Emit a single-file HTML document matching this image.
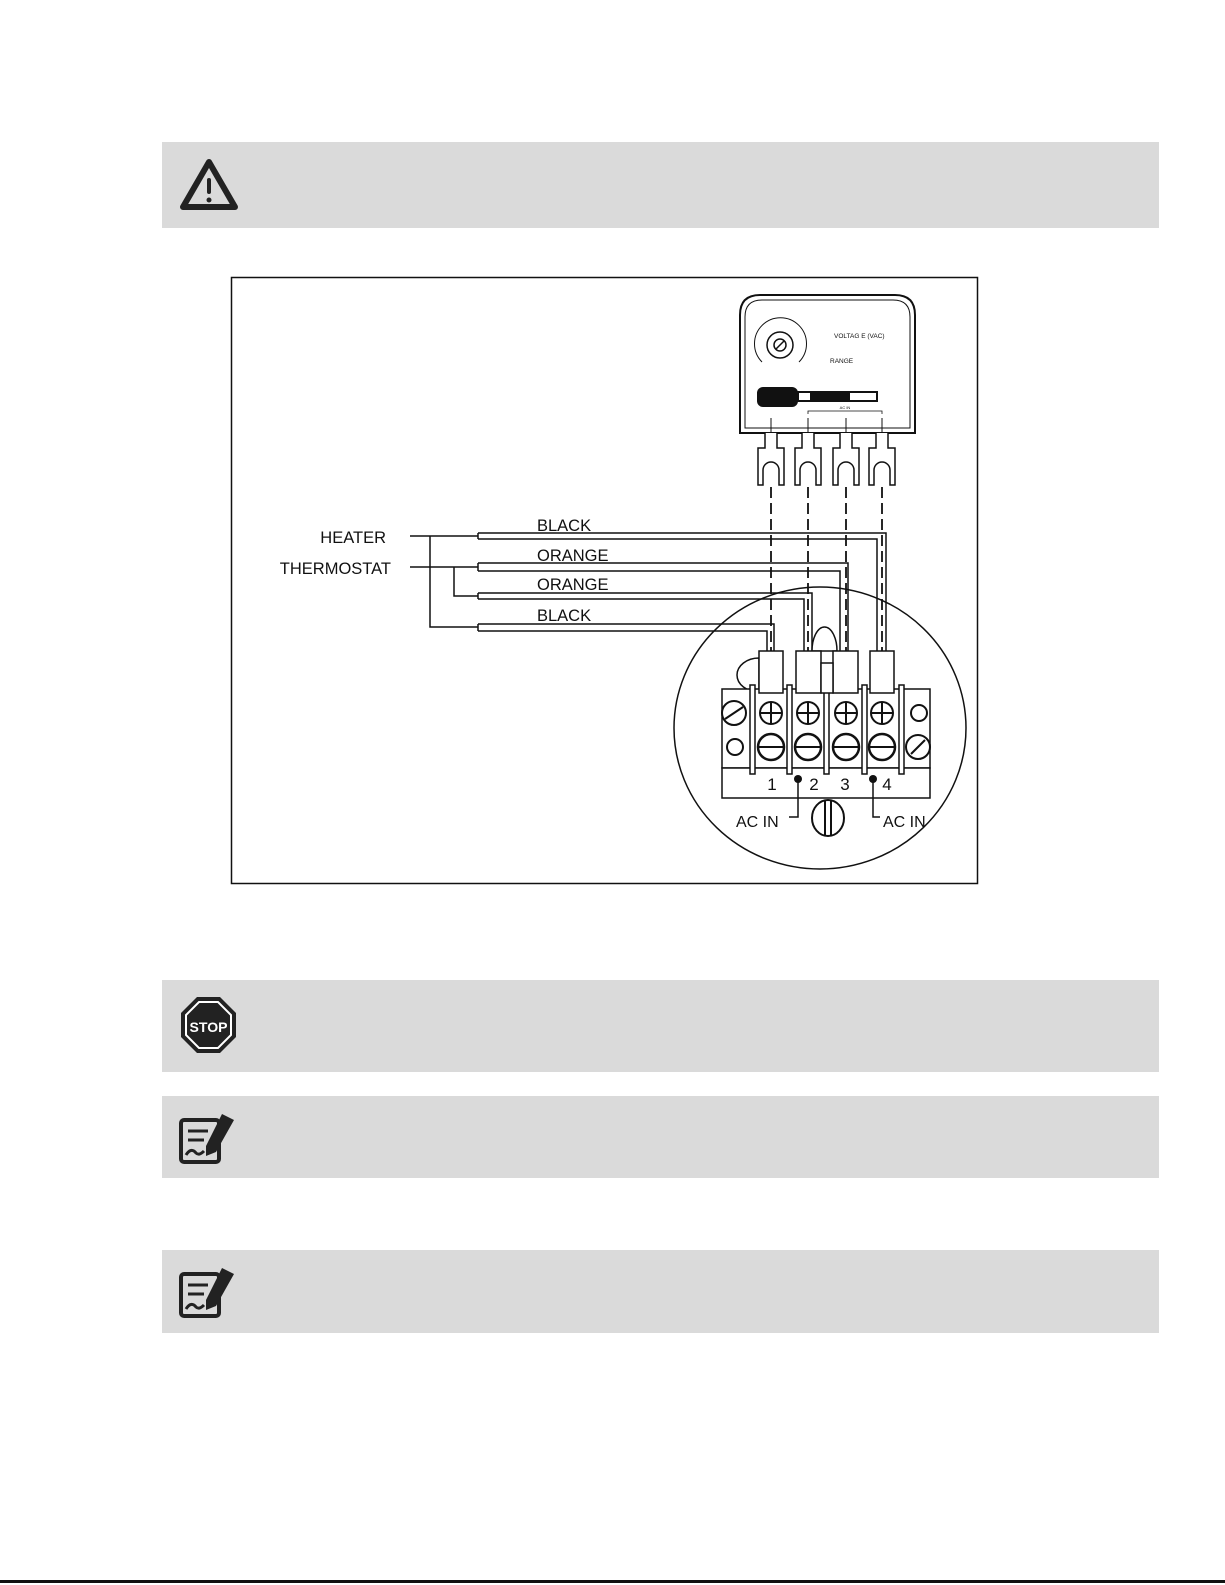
<!DOCTYPE html>
<html><head><style>
body{margin:0;background:#fff;}
svg{display:block;font-family:"Liberation Sans",sans-serif;}
</style></head><body>
<svg width="1225" height="1585" viewBox="0 0 1225 1585" xmlns="http://www.w3.org/2000/svg">
<defs>
<g id="lug">
<path d="M-6 433 v15 h-7 v37 h5 v-15 a8 8 0 0 1 16 0 v15 h5 v-37 h-7 v-15" fill="#fff" stroke="#111" stroke-width="1.5"/>
<line x1="0" y1="418" x2="0" y2="432" stroke="#111" stroke-width="1"/>
</g>
</defs>
<rect width="1225" height="1585" fill="#fff"/>
<rect x="162" y="142" width="997" height="86" fill="#dadada"/>
<rect x="162" y="980" width="997" height="92" fill="#dadada"/>
<rect x="162" y="1096" width="997" height="82" fill="#dadada"/>
<rect x="162" y="1250" width="997" height="83" fill="#dadada"/>
<path d="M209 162 L235 207 L183 207 Z" fill="none" stroke="#222" stroke-width="6" stroke-linejoin="round"/>
<rect x="207" y="178" width="4" height="16" rx="2" fill="#222"/>
<circle cx="209" cy="200" r="2.5" fill="#222"/>
<polygon points="197,997 220,997 236,1013 236,1037 220,1053 197,1053 181,1037 181,1013" fill="#222"/>
<polygon points="199,1002 218,1002 231,1015 231,1035 218,1048 199,1048 186,1035 186,1015" fill="none" stroke="#fff" stroke-width="2"/>
<text x="208.5" y="1032" font-size="14" font-weight="bold" fill="#fff" text-anchor="middle" textLength="38" lengthAdjust="spacingAndGlyphs">STOP</text>
<g id="n1">
<rect x="181" y="1120" width="38" height="42" rx="3" fill="none" stroke="#222" stroke-width="4"/>
<line x1="188" y1="1131" x2="208" y2="1131" stroke="#222" stroke-width="3"/>
<line x1="188" y1="1140" x2="204" y2="1140" stroke="#222" stroke-width="3"/>
<path d="M186 1155 q5 -8 10 -2 q3 3 8 -2" fill="none" stroke="#222" stroke-width="3"/>
<path d="M222 1114 l12 6 l-18 32 l-10 4 l0 -10 z" fill="#222"/>
</g>
<use href="#n1" transform="translate(0,154)"/>
<rect x="231.5" y="277.5" width="746" height="606" fill="none" stroke="#111" stroke-width="1.5"/>
<!-- device -->
<path d="M740 433 L740 315 Q740 295 760 295 L895 295 Q915 295 915 315 L915 433 Z" fill="#fff" stroke="#111" stroke-width="2"/>
<path d="M745 428 L745 317 Q745 300 762 300 L893 300 Q910 300 910 317 L910 428 Z" fill="none" stroke="#111" stroke-width="1"/>
<circle cx="780" cy="345" r="13" fill="none" stroke="#111" stroke-width="1.5"/>
<circle cx="780" cy="345" r="6" fill="none" stroke="#111" stroke-width="1.5"/>
<line x1="776" y1="349" x2="784" y2="341" stroke="#111" stroke-width="1.5"/>
<path d="M762 362 A26 26 0 1 1 799 362" fill="none" stroke="#111" stroke-width="1"/>
<text x="834" y="338" font-size="6.5" fill="#111">VOLTAG E (VAC)</text>
<text x="830" y="363" font-size="6.5" fill="#111">RANGE</text>
<rect x="757" y="387" width="41" height="20" fill="#111" rx="6"/>
<rect x="798" y="392" width="79" height="9" fill="none" stroke="#111" stroke-width="2"/>
<rect x="810" y="392" width="40" height="9" fill="#111"/>
<path d="M808 414 L808 411 L882 411 L882 414" fill="none" stroke="#111" stroke-width="0.8"/>
<text x="845" y="409" font-size="4" fill="#111" text-anchor="middle">AC IN</text>
<use href="#lug" x="771"/><use href="#lug" x="808"/><use href="#lug" x="846"/><use href="#lug" x="882"/>
<!-- dashed -->
<g stroke="#111" stroke-width="1.8" stroke-dasharray="11,5">
<line x1="771" y1="487" x2="771" y2="690"/>
<line x1="808" y1="487" x2="808" y2="690"/>
<line x1="846" y1="487" x2="846" y2="690"/>
<line x1="882" y1="487" x2="882" y2="690"/>
</g>
<!-- circle -->
<ellipse cx="820" cy="728" rx="146" ry="141" fill="none" stroke="#111" stroke-width="1.5"/>
<!-- wires -->
<g fill="none" stroke="#111" stroke-width="1.5">
<path d="M478 533 H886 V651"/><path d="M478 539 H877 V651"/>
<path d="M478 563 H848 V651"/><path d="M478 571 H840 V651"/>
<path d="M478 593 H812 V651"/><path d="M478 599 H804 V651"/>
<path d="M478 624 H774 V651"/><path d="M478 631 H767 V651"/>
<line x1="478" y1="533" x2="478" y2="539"/><line x1="478" y1="563" x2="478" y2="571"/>
<line x1="478" y1="593" x2="478" y2="599"/><line x1="478" y1="624" x2="478" y2="631"/>
<path d="M410 536 H478 M430 536 V627 H478"/>
<path d="M410 567 H478 M454 567 V596 H478"/>
</g>
<g font-size="16.5" fill="#111">
<text x="537" y="531">BLACK</text>
<text x="537" y="561">ORANGE</text>
<text x="537" y="590">ORANGE</text>
<text x="537" y="621">BLACK</text>
<text x="386" y="543" text-anchor="end">HEATER</text>
<text x="391" y="574" text-anchor="end">THERMOSTAT</text>
</g>
<!-- terminal block -->
<g fill="#fff" stroke="#111" stroke-width="1.5">
<path d="M759 692 a22 17 0 0 1 0 -34 z"/>
<path d="M812 651 a12 23 0 0 1 25 0 z"/>
<rect x="722" y="689" width="208" height="79"/>
<rect x="722" y="768" width="208" height="30"/>
<rect x="750" y="685" width="5" height="89"/>
<rect x="787" y="685" width="5" height="89"/>
<rect x="824" y="685" width="5" height="89"/>
<rect x="862" y="685" width="5" height="89"/>
<rect x="899" y="685" width="5" height="89"/>
<rect x="759" y="651" width="24" height="42"/>
<rect x="796" y="651" width="25" height="42"/>
<rect x="833" y="651" width="25" height="42"/>
<rect x="870" y="651" width="24" height="42"/>
<rect x="821" y="663" width="12" height="30"/>
</g>
<g fill="#fff" stroke="#111" stroke-width="2">
<circle cx="771" cy="713" r="11"/><circle cx="808" cy="713" r="11"/><circle cx="846" cy="713" r="11"/><circle cx="882" cy="713" r="11"/>
<circle cx="771" cy="747" r="13" stroke-width="2.5"/><circle cx="808" cy="747" r="13" stroke-width="2.5"/><circle cx="846" cy="747" r="13" stroke-width="2.5"/><circle cx="882" cy="747" r="13" stroke-width="2.5"/>
<circle cx="734" cy="713" r="12"/><circle cx="735" cy="747" r="8"/>
<circle cx="919" cy="713" r="8"/><circle cx="918" cy="747" r="12"/>
<ellipse cx="828" cy="818" rx="16" ry="18"/>
</g>
<g stroke="#111" stroke-width="2">
<line x1="760" y1="713" x2="782" y2="713"/><line x1="771" y1="702" x2="771" y2="724"/>
<line x1="797" y1="713" x2="819" y2="713"/><line x1="808" y1="702" x2="808" y2="724"/>
<line x1="835" y1="713" x2="857" y2="713"/><line x1="846" y1="702" x2="846" y2="724"/>
<line x1="871" y1="713" x2="893" y2="713"/><line x1="882" y1="702" x2="882" y2="724"/>
<line x1="758" y1="747" x2="784" y2="747"/><line x1="795" y1="747" x2="821" y2="747"/>
<line x1="833" y1="747" x2="859" y2="747"/><line x1="869" y1="747" x2="895" y2="747"/>
<line x1="725" y1="719" x2="743" y2="707"/><line x1="911" y1="754" x2="925" y2="740"/>
<line x1="825" y1="800" x2="825" y2="836"/><line x1="831" y1="800" x2="831" y2="836"/>
</g>
<g font-size="17" fill="#111">
<text x="772" y="790" text-anchor="middle">1</text><text x="814" y="790" text-anchor="middle">2</text><text x="845" y="790" text-anchor="middle">3</text><text x="887" y="790" text-anchor="middle">4</text>
<text x="736" y="827" font-size="16">AC IN</text>
<text x="883" y="827" font-size="16">AC IN</text>
</g>
<circle cx="798" cy="779" r="4" fill="#111"/>
<circle cx="873" cy="779" r="4" fill="#111"/>
<path d="M798 779 V817 H789 M873 779 V817 H880" fill="none" stroke="#111" stroke-width="1.5"/>
<rect x="0" y="1580" width="1225" height="3" fill="#111"/>
</svg>
</body></html>
